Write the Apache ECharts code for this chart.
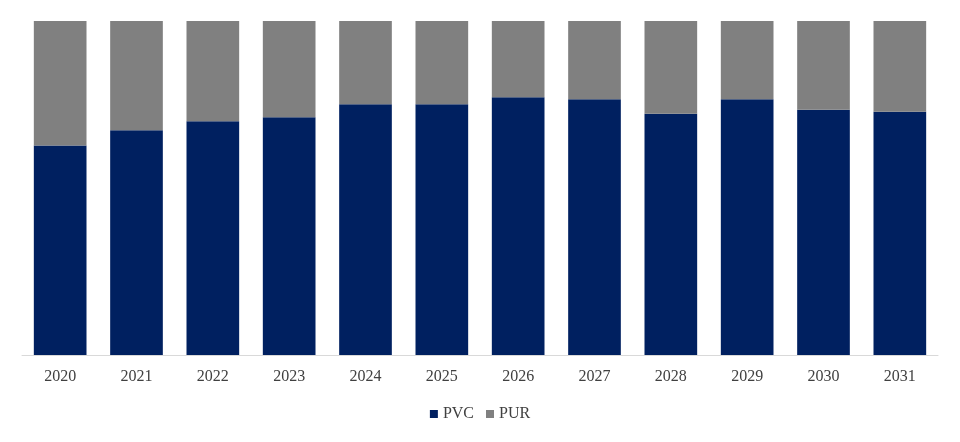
<!DOCTYPE html>
<html>
<head>
<meta charset="utf-8">
<script src="https://cdn.jsdelivr.net/npm/echarts@6/dist/echarts.min.js"></script>
<style>html,body{margin:0;padding:0;background:#fff}#c{width:960px;height:442px}</style>
</head>
<body>
<div id="c"></div>
<script>
const years = ['2020','2021','2022','2023','2024','2025','2026','2027','2028','2029','2030','2031'];
const pvc = [62.7, 67.3, 70.0, 71.2, 75.1, 75.1, 77.2, 76.6, 72.2, 76.6, 73.4, 72.8];
const pur = pvc.map(v => +(100 - v).toFixed(1));
const chart = echarts.init(document.getElementById('c'));
const font = '"Liberation Serif","Times New Roman",serif';
chart.setOption({
  animation: false,
  grid: {left: 22, right: 22, top: 21, bottom: 87},
  legend: {
    bottom: 15, left: 'center',
    icon: 'rect', itemWidth: 8, itemHeight: 8, itemGap: 12,
    textStyle: {fontFamily: font, fontSize: 16, color: '#404040'},
    data: ['PVC', 'PUR']
  },
  xAxis: {
    type: 'category', data: years,
    axisLine: {lineStyle: {color: '#d9d9d9', width: 1}},
    axisTick: {show: false},
    axisLabel: {fontFamily: font, fontSize: 16, color: '#404040', margin: 14}
  },
  yAxis: {type: 'value', min: 0, max: 100, show: false, splitLine: {show: false}},
  series: [
    {name: 'PVC', type: 'bar', stack: 't', data: pvc, barCategoryGap: '31%', itemStyle: {color: '#002060'}},
    {name: 'PUR', type: 'bar', stack: 't', data: pur, itemStyle: {color: '#808080'}}
  ]
});
</script>
</body>
</html>
